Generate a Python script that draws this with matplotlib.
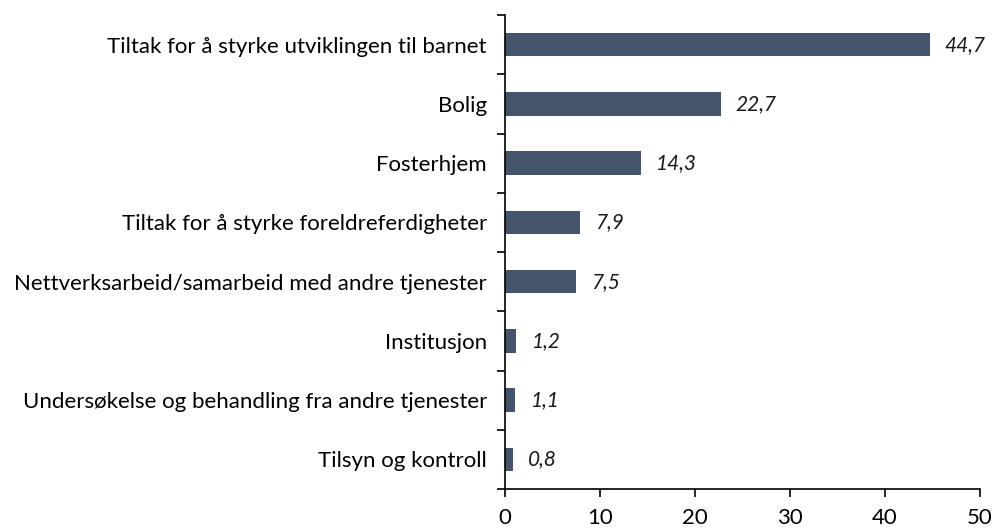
import numpy as np
import matplotlib.pyplot as plt
from matplotlib.ticker import FixedLocator

categories = [
    "Tiltak for å styrke utviklingen til barnet",
    "Bolig",
    "Fosterhjem",
    "Tiltak for å styrke foreldreferdigheter",
    "Nettverksarbeid/samarbeid med andre tjenester",
    "Institusjon",
    "Undersøkelse og behandling fra andre tjenester",
    "Tilsyn og kontroll",
]
values = [44.7, 22.7, 14.3, 7.9, 7.5, 1.2, 1.1, 0.8]
xticks = [0, 10, 20, 30, 40, 50]

BAR_COLOR = "#44546A"
plt.rcParams["font.family"] = ["Lato", "DejaVu Sans"]

fig = plt.figure(figsize=(9.93, 5.29), dpi=100)
ax = fig.add_axes([0.5086, 0.0756, 0.4783, 0.8960])

n = len(categories)
y = np.arange(n)
ax.barh(y, values, height=0.4, color=BAR_COLOR)
ax.set_ylim(n - 0.5, -0.5)
ax.set_xlim(0, 50)

for yi, v in zip(y, values):
    ax.text(v + 1.6, yi, f"{v:.1f}".replace(".", ","), va="center", ha="left",
            fontsize=15, style="italic", color="#1a1a1a")

ax.set_yticks(y)
ax.set_yticklabels(categories, fontsize=16)
ax.yaxis.set_minor_locator(FixedLocator(np.arange(n + 1) - 0.5))
ax.tick_params(axis="y", which="major", length=0, pad=13)
ax.tick_params(axis="y", which="minor", length=6, width=1.2, direction="out")
ax.set_xticks(xticks)
ax.tick_params(axis="x", length=6, width=1.2, labelsize=16, pad=8)

for side in ["top", "right"]:
    ax.spines[side].set_visible(False)
for side in ["left", "bottom"]:
    ax.spines[side].set_linewidth(1.2)

fig.savefig("out.png", dpi=100)
